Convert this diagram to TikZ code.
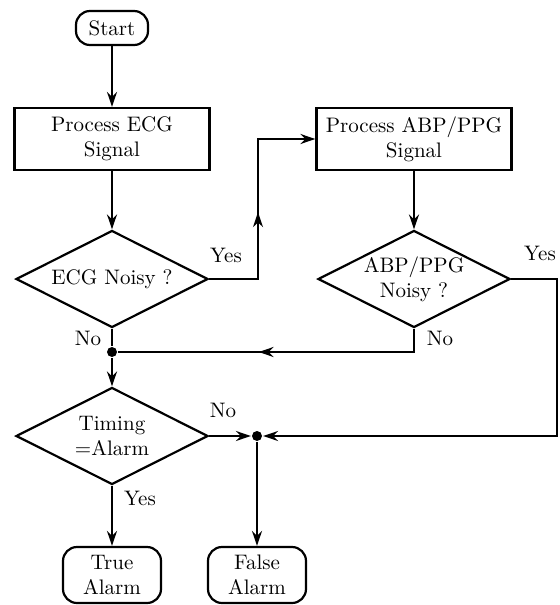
\documentclass[tikz,border=0pt]{standalone}
\usetikzlibrary{shapes.geometric,arrows.meta,decorations.markings}
\begin{document}
\begin{tikzpicture}[x=0.5pt,y=-0.5pt,
  line width=1.1pt,
  font=\fontsize{10.5}{12.5}\selectfont,
  >={Stealth[length=7.5pt,width=5pt]},
  procbox/.style={draw,rectangle,minimum width=97.5pt,minimum height=31pt,align=center,inner sep=1pt},
  termbox/.style={draw,rectangle,rounded corners=7pt,align=center,inner sep=1pt},
  decbox/.style={draw,diamond,aspect=2,minimum width=96pt,minimum height=48.5pt,align=center,inner sep=0pt},
  jdot/.style={circle,fill,inner sep=0pt,minimum size=5pt},
  lbl/.style={inner sep=1pt},
  midarr/.style={postaction={decorate},decoration={markings,mark=at position #1 with {\arrow{Stealth[length=7.5pt,width=5pt]}}}}
]
\useasboundingbox (0,0) rectangle (560,605);
\node[termbox,minimum width=36pt,minimum height=17pt] (start) at (112,28) {Start};
\node[procbox] (ecg) at (112,139) {Process ECG\\Signal};
\node[decbox] (ecgn) at (112,279) {ECG Noisy ?};
\node[procbox] (abp) at (414,139) {Process ABP/PPG\\Signal};
\node[decbox] (abpn) at (414,279) {ABP/PPG\\Noisy ?};
\node[jdot] (j1) at (112,352) {};
\node[decbox] (timing) at (112,436) {Timing\\=Alarm};
\node[jdot] (j2) at (257,436) {};
\node[termbox,minimum width=49pt,minimum height=28pt] (trueal) at (112,575) {True\\Alarm};
\node[termbox,minimum width=49pt,minimum height=28pt] (falseal) at (257,575) {False\\Alarm};
\coordinate (y1a) at (258,279);
\coordinate (y1b) at (258,139);
\coordinate (n2a) at (414,352);
\coordinate (y2a) at (557,279);
\coordinate (y2b) at (557,436);

\draw[->] (start) -- (ecg);
\draw[->] (ecg) -- (ecgn);
\draw[->,midarr=0.47] (ecgn.east) -- (y1a) -- (y1b) -- (abp.west);
\draw[->] (abp) -- (abpn);
\draw[midarr=0.56] (abpn.south) -- (n2a) -- (j1);
\draw (ecgn.south) -- (j1);
\draw[->] (j1) -- (timing.north);
\draw[->] (abpn.east) -- (y2a) -- (y2b) -- (j2);
\draw[->] (timing.east) -- (j2);
\draw[->] (j2) -- (falseal.north);
\draw[->] (timing.south) -- (trueal.north);

\node[lbl] at (226,255) {Yes};
\node[lbl] at (88,338) {No};
\node[lbl] at (540,253) {Yes};
\node[lbl] at (440,338) {No};
\node[lbl] at (223,410) {No};
\node[lbl] at (140,498) {Yes};
\end{tikzpicture}
\end{document}
